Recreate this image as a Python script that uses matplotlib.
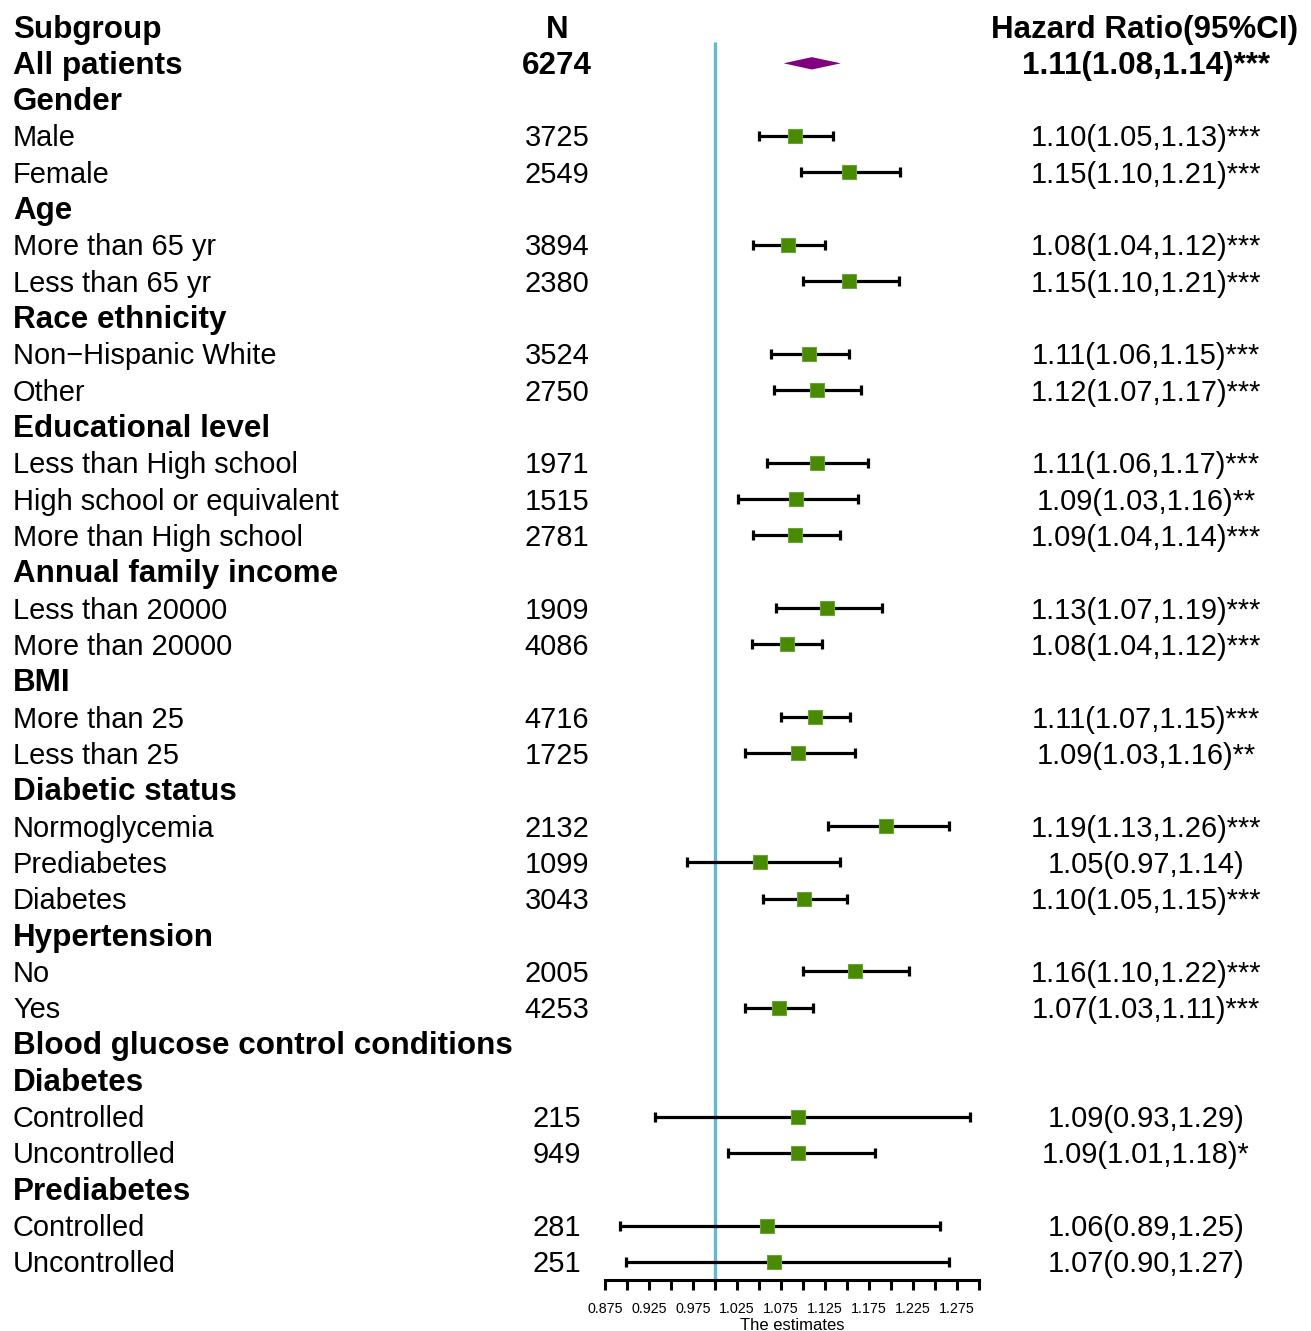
import numpy as np
import matplotlib
matplotlib.use("Agg")
import matplotlib.pyplot as plt
from matplotlib import transforms

plt.rcParams['font.family'] = ['Liberation Sans', 'DejaVu Sans']

# ---------------- data ----------------
labels = ["All patients", "Gender", "Male", "Female", "Age", "More than 65 yr", "Less than 65 yr",
          "Race ethnicity", "Non\u2212Hispanic White", "Other", "Educational level",
          "Less than High school", "High school or equivalent", "More than High school",
          "Annual family income", "Less than 20000", "More than 20000", "BMI", "More than 25",
          "Less than 25", "Diabetic status", "Normoglycemia", "Prediabetes", "Diabetes",
          "Hypertension", "No", "Yes", "Blood glucose control conditions", "Diabetes",
          "Controlled", "Uncontrolled", "Prediabetes", "Controlled", "Uncontrolled"]
is_header = [True, True, False, False, True, False, False,
             True, False, False, True,
             False, False, False,
             True, False, False, True, False,
             False, True, False, False, False,
             True, False, False, True, True,
             False, False, True, False, False]
n_values = ["6274", "", "3725", "2549", "", "3894", "2380",
            "", "3524", "2750", "",
            "1971", "1515", "2781",
            "", "1909", "4086", "", "4716",
            "1725", "", "2132", "1099", "3043",
            "", "2005", "4253", "", "",
            "215", "949", "", "281", "251"]
hr_text = ["1.11(1.08,1.14)***", "", "1.10(1.05,1.13)***", "1.15(1.10,1.21)***", "",
           "1.08(1.04,1.12)***", "1.15(1.10,1.21)***",
           "", "1.11(1.06,1.15)***", "1.12(1.07,1.17)***", "",
           "1.11(1.06,1.17)***", "1.09(1.03,1.16)**", "1.09(1.04,1.14)***",
           "", "1.13(1.07,1.19)***", "1.08(1.04,1.12)***", "", "1.11(1.07,1.15)***",
           "1.09(1.03,1.16)**", "", "1.19(1.13,1.26)***", "1.05(0.97,1.14)", "1.10(1.05,1.15)***",
           "", "1.16(1.10,1.22)***", "1.07(1.03,1.11)***", "", "",
           "1.09(0.93,1.29)", "1.09(1.01,1.18)*", "", "1.06(0.89,1.25)", "1.07(0.90,1.27)"]
nan = np.nan
estimate = [1.110, nan, 1.091, 1.152, nan, 1.083, 1.152,
            nan, 1.107, 1.116, nan,
            1.116, 1.092, 1.091,
            nan, 1.127, 1.082, nan, 1.114,
            1.094, nan, 1.194, 1.051, 1.101,
            nan, 1.159, 1.073, nan, nan,
            1.094, 1.094, nan, 1.059, 1.067]
lower = [1.078, nan, 1.050, 1.098, nan, 1.043, 1.100,
         nan, 1.064, 1.067, nan,
         1.059, 1.026, 1.043,
         nan, 1.069, 1.042, nan, 1.075,
         1.034, nan, 1.128, 0.968, 1.055,
         nan, 1.100, 1.034, nan, nan,
         0.932, 1.015, nan, 0.892, 0.899]
upper = [1.143, nan, 1.134, 1.210, nan, 1.125, 1.209,
         nan, 1.152, 1.166, nan,
         1.174, 1.163, 1.142,
         nan, 1.190, 1.122, nan, 1.153,
         1.159, nan, 1.266, 1.142, 1.150,
         nan, 1.220, 1.111, nan, nan,
         1.290, 1.182, nan, 1.256, 1.266]
tick_values = np.arange(0.875, 1.3001, 0.025)
tick_labels = ["%.3f" % v if i % 2 == 0 else "" for i, v in enumerate(tick_values)]

# ---------------- layout ----------------
W, H = 1311, 1331
fig = plt.figure(figsize=(W / 100, H / 100), dpi=100)
ax = fig.add_axes([0, 0, 1, 1])
ax.set_axis_off()

px_per_unit = 880.0
x_ref_px = 715.0
xlim = (1 - x_ref_px / px_per_unit, 1 + (W - x_ref_px) / px_per_unit)
ax.set_xlim(*xlim)
row0_px, row_h = 27.0, 36.32
ax.set_ylim((H - row0_px) / row_h, -row0_px / row_h)

fs = 20.9
fs_b = 22.6
tr = transforms.blended_transform_factory(fig.transFigure, ax.transData)
base_off = 0.29

# headers
ax.text(13 / W, 0 + base_off, "Subgroup", transform=tr, fontsize=fs_b, fontweight='bold', ha='left', va='baseline')
ax.text(557 / W, 0 + base_off, "N", transform=tr, fontsize=fs_b, fontweight='bold', ha='center', va='baseline')
ax.text(1145 / W, 0 + base_off, "Hazard Ratio(95%CI)", transform=tr, fontsize=fs_b, fontweight='bold', ha='center', va='baseline')

for i, lab in enumerate(labels):
    r = i + 1
    bold_row = is_header[i]
    ax.text(13 / W, r + base_off, lab, transform=tr, fontsize=fs_b if bold_row else fs,
            fontweight='bold' if bold_row else 'normal', ha='left', va='baseline')
    if n_values[i]:
        ax.text(557 / W, r + base_off, n_values[i], transform=tr, fontsize=fs_b if i == 0 else fs,
                fontweight='bold' if i == 0 else 'normal', ha='center', va='baseline')
    if hr_text[i]:
        ax.text(1146 / W, r + base_off, hr_text[i], transform=tr, fontsize=fs_b if i == 0 else fs,
                fontweight='bold' if i == 0 else 'normal', ha='center', va='baseline')

# reference line
axis_px = 1280.0
ax.plot([1.0, 1.0], [(42 - row0_px) / row_h, (axis_px - row0_px) / row_h],
        color='#5fbdca', lw=2.4, solid_capstyle='butt', zorder=1)

# summary diamond
est0, lo0, hi0 = estimate[0], lower[0], upper[0]
dh = 0.17
ax.fill([lo0, est0, hi0, est0], [1, 1 - dh, 1, 1 + dh], color='#800080', lw=0, zorder=3)

# subgroup estimates
rows = np.arange(1, len(labels) + 1)
est = np.array(estimate[1:])
lo = np.array(lower[1:])
hi = np.array(upper[1:])
rr = rows[1:]
mask = ~np.isnan(est)
ax.errorbar(est[mask], rr[mask], xerr=[est[mask] - lo[mask], hi[mask] - est[mask]],
            fmt='none', ecolor='black', elinewidth=2.3, capsize=3.6, capthick=2.3, zorder=2)
ax.plot(est[mask], rr[mask], ls='none', marker='s', markersize=10,
        markerfacecolor='#4a8a00', markeredgecolor='#6aa33a', markeredgewidth=0.8, zorder=4)

# x axis
ax2 = fig.add_axes([0, (H - axis_px) / H, 1, 0.0001])
ax2.set_facecolor('none')
ax2.set_xlim(*xlim)
for s in ['top', 'left', 'right']:
    ax2.spines[s].set_visible(False)
ax2.spines['bottom'].set_bounds(tick_values[0], tick_values[-1])
ax2.spines['bottom'].set_linewidth(2.2)
ax2.set_yticks([])
ax2.set_xticks(tick_values)
ax2.set_xticklabels(tick_labels, fontsize=10.3)
ax2.tick_params(axis='x', direction='out', length=7.5, width=2.2, pad=8)
ax.text((tick_values[0] + tick_values[-1]) / 2, (1325 - row0_px) / row_h, "The estimates",
        fontsize=12, ha='center', va='center')

fig.savefig("out.png", dpi=100)
